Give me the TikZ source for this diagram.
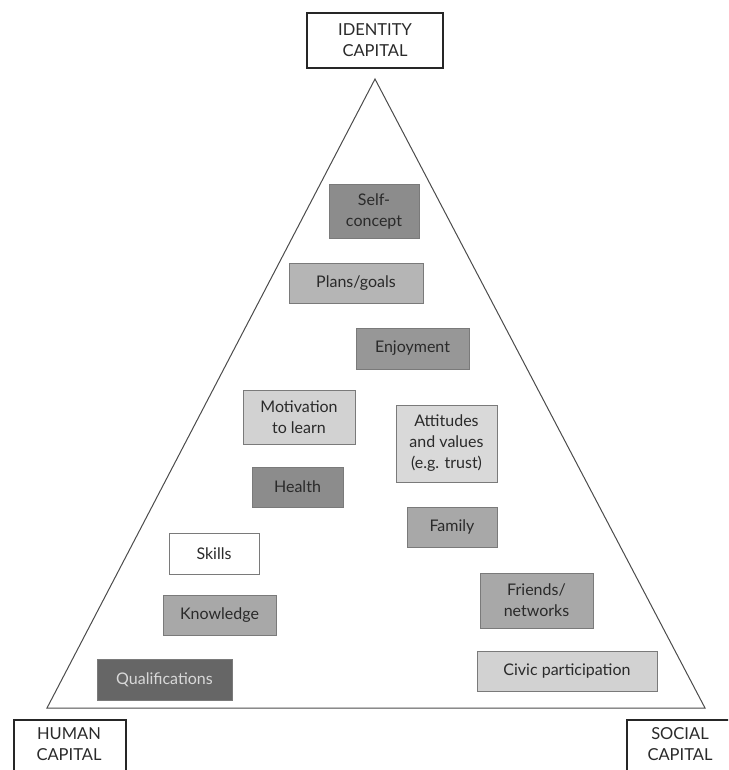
\documentclass[tikz,border=0pt]{standalone}
\usepackage{fontspec}
\setmainfont{Lato}
\definecolor{txt}{HTML}{2A2A2A}
\definecolor{gdark}{HTML}{8C8C8C}
\definecolor{gmid}{HTML}{A8A8A8}
\definecolor{glight}{HTML}{D2D2D2}
\definecolor{gvdark}{HTML}{666666}
\definecolor{edge}{HTML}{7A7A7A}
\begin{document}
\begin{tikzpicture}[x=1pt,y=-1pt,
  item/.style={draw=edge,line width=1pt,text=txt,align=center,inner sep=0pt,
    font=\fontsize{16}{21}\selectfont},
  capbox/.style={draw=black!85,line width=2pt,text=txt,align=center,inner sep=0pt,
    font=\fontsize{16.5}{21}\selectfont}]
\useasboundingbox (0,0) rectangle (728,770);
\fill[white] (0,0) rectangle (728,770);
% triangle
\coordinate (apex) at (375,79);
\coordinate (bl) at (47,708);
\coordinate (br) at (705,708);
\draw[draw=black!70,line width=1pt] (apex) -- (bl) -- (br) -- cycle;
% capital boxes
\node[capbox,minimum width=136pt,minimum height=55pt] (id) at (375,40.5) {IDENTITY\\CAPITAL};
\begin{scope}
\clip (0,0) rectangle (728,770);
\node[capbox,minimum width=112pt,minimum height=70pt,anchor=north west] (hum) at (13,719) {};
\node[capbox,minimum width=114pt,minimum height=70pt,anchor=north west] (soc) at (626,719) {};
\end{scope}
\node[text=txt,align=center,font=\fontsize{16.5}{21}\selectfont,anchor=north] (humt) at (69,724) {HUMAN\\CAPITAL};
\node[text=txt,align=center,font=\fontsize{16.5}{21}\selectfont,anchor=north] (soct) at (680,724) {SOCIAL\\CAPITAL};
% items
\node[item,fill=gdark,minimum width=90pt,minimum height=54pt] (self) at (374,211) {Self-\\concept};
\node[item,fill=gmid!85!white,minimum width=134pt,minimum height=40pt] (plans) at (356,283) {Plans/goals};
\node[item,fill=gdark!90!white,minimum width=113pt,minimum height=41pt] (enj) at (412.5,348.5) {Enjoyment};
\node[item,fill=glight,minimum width=112pt,minimum height=54pt] (mot) at (299,417) {Motivation\\to learn};
\node[item,fill=glight!85!white,minimum width=101pt,minimum height=77pt] (att) at (446.5,443.5) {Attitudes\\and values\\(e.g. trust)};
\node[item,fill=gdark,minimum width=91pt,minimum height=40pt] (health) at (297.5,487) {Health};
\node[item,fill=gmid,minimum width=90pt,minimum height=40pt] (fam) at (452,527) {Family};
\node[item,fill=white,minimum width=90pt,minimum height=41pt] (skills) at (214,553.5) {Skills};
\node[item,fill=gmid,minimum width=113pt,minimum height=40pt] (know) at (219.5,615) {Knowledge};
\node[item,fill=gmid,minimum width=113pt,minimum height=55pt] (fri) at (536.5,600.5) {Friends/\\networks};
\node[item,fill=gvdark,text=white!85!black,minimum width=135pt,minimum height=41pt] (qual) at (164.5,679.5) {Qualifications};
\node[item,fill=glight,minimum width=180pt,minimum height=40pt] (civic) at (567,671) {Civic participation};
\end{tikzpicture}
\end{document}
